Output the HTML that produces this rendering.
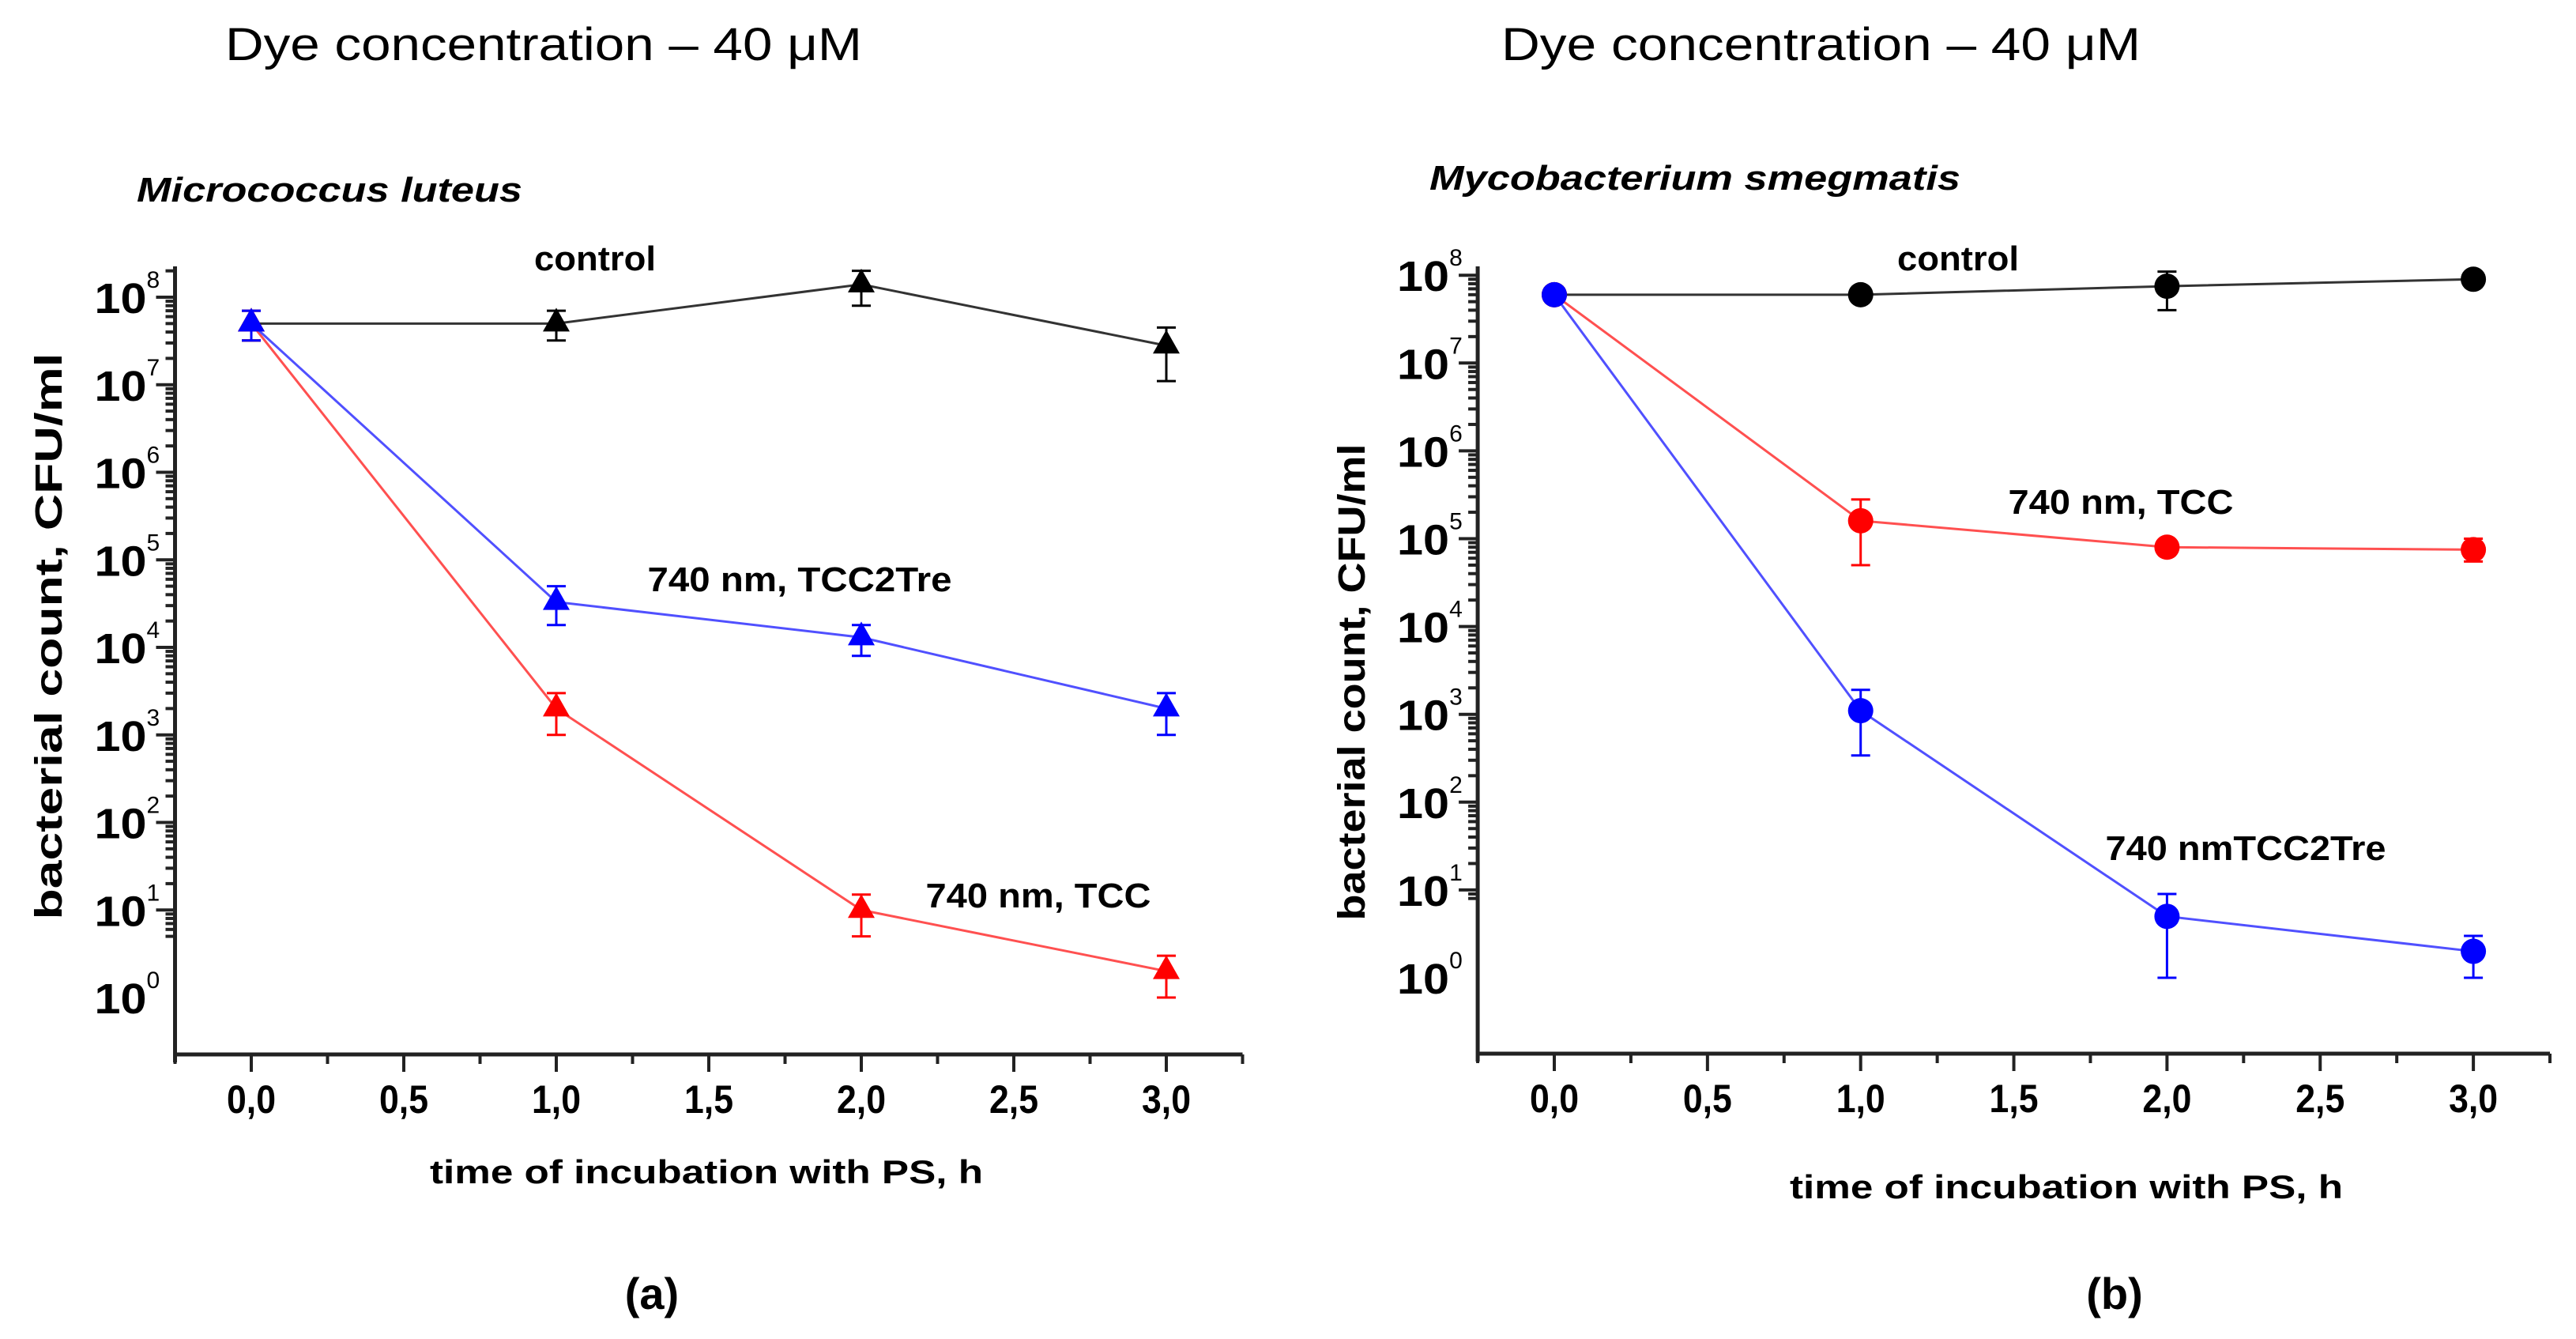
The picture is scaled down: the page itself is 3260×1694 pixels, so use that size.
<!DOCTYPE html>
<html><head><meta charset="utf-8"><style>
html,body{margin:0;padding:0;background:#fff;}
svg{display:block;font-family:"Liberation Sans",Arial,sans-serif;}
</style></head><body>
<svg id="fig" width="3260" height="1694" viewBox="0 0 3260 1694" xmlns="http://www.w3.org/2000/svg">
<rect width="3260" height="1694" fill="#fff"/>
<text x="285" y="76" font-size="58" textLength="806" lengthAdjust="spacingAndGlyphs">Dye concentration – 40 μM</text>
<text x="1900" y="76" font-size="58" textLength="809" lengthAdjust="spacingAndGlyphs">Dye concentration – 40 μM</text>
<text x="173" y="255" font-size="44" font-weight="bold" font-style="italic" textLength="488" lengthAdjust="spacingAndGlyphs">Micrococcus luteus</text>
<text x="1809" y="240" font-size="44" font-weight="bold" font-style="italic" textLength="672" lengthAdjust="spacingAndGlyphs">Mycobacterium smegmatis</text>
<text x="825" y="1656" font-size="56" font-weight="bold" text-anchor="middle">(a)</text>
<text x="2676" y="1656" font-size="56" font-weight="bold" text-anchor="middle">(b)</text>
<g id="chartA"></g>
<g id="chartB"></g>
</svg>
<script>
const NS="http://www.w3.org/2000/svg";
// ---- data ----
const timesA=[0,1,2,3];
const ctrlA=[5e7,5e7,1.4e8,2.8e7];
const ctrlAHi=[7e7,7e7,2e8,4.5e7];
const ctrlALo=[3.2e7,3.2e7,8e7,1.1e7];
const treA=[5e7,3.3e4,1.3e4,2e3];
const treAHi=[7e7,5e4,1.8e4,3e3];
const treALo=[3.2e7,1.8e4,8e3,1e3];
const tccA=[5e7,2e3,10,2];
const tccAHi=[7e7,3e3,15,3];
const tccALo=[3.2e7,1e3,5,1];
const timesB=[0,1,2,3];
const ctrlB=[6e7,6e7,7.5e7,9e7];
const ctrlBHi=[6e7,6e7,1.1e8,9e7];
const ctrlBLo=[6e7,6e7,4e7,9e7];
const tccB=[6e7,1.6e5,8e4,7.5e4];
const tccBHi=[6e7,2.8e5,8e4,1e5];
const tccBLo=[6e7,5e4,8e4,5.5e4];
const treB=[6e7,1.1e3,5,2];
const treBHi=[6e7,1.9e3,9,3];
const treBLo=[6e7,3.4e2,1,1];
const xTickLabels=["0,0","0,5","1,0","1,5","2,0","2,5","3,0"];
const xTickValues=[0,0.5,1,1.5,2,2.5,3];
const yDecades=[0,1,2,3,4,5,6,7,8];

function el(tag,attrs,parent){const e=document.createElementNS(NS,tag);for(const k in attrs)e.setAttribute(k,attrs[k]);parent.appendChild(e);return e;}

function chart(g,cfg){
  const X=v=>cfg.x0+v*cfg.unit;
  const Y=v=>cfg.y0-Math.log10(v)*cfg.dec;
  const left=X(-0.25),right=X(3.25),bottom=cfg.bottom,top=cfg.top;
  let a=el('line',{x1:left,y1:top,x2:left,y2:bottom+10,stroke:'#222','stroke-width':5},g);
  
  
  a=el('line',{x1:left,y1:bottom,x2:right,y2:bottom,stroke:'#222','stroke-width':5},g);
  
  
  const lo=Math.pow(10,(cfg.y0-bottom)/-cfg.dec), hi=Math.pow(10,(cfg.y0-top)/cfg.dec);
  for(let d=-1;d<=8;d++){
    for(let m=1;m<=9;m++){
      const v=m*Math.pow(10,d); if(v<lo||v>hi)continue;
      const y=Y(v), len=m===1?24:12;
      el('line',{x1:left-len,y1:y,x2:left,y2:y,stroke:'#222','stroke-width':4},g);
    }
  }
  yDecades.forEach(d=>{
    const t=el('text',{x:left-36,y:Y(Math.pow(10,d))+20,'font-size':54,'font-weight':'bold','text-anchor':'end',textLength:66,lengthAdjust:'spacingAndGlyphs'},g);
    t.textContent='10';
    
    
    const s=el('text',{x:left-36,y:Y(Math.pow(10,d))-12,'font-size':30},g);
    s.textContent=String(d);
  });
  for(let i=-1;i<=13;i++){const v=i*0.25;if(v<-0.25||v>3.25)continue;const maj=(i%2===0);
    el('line',{x1:X(v),y1:bottom,x2:X(v),y2:bottom+(maj?22:12),stroke:'#222','stroke-width':4},g);}
  xTickValues.forEach((v,i)=>{const t=el('text',{x:X(v),y:bottom+74,'font-size':50,'font-weight':'bold','text-anchor':'middle',textLength:62,lengthAdjust:'spacingAndGlyphs'},g);
    t.textContent=xTickLabels[i];
    
    });
  let t=el('text',{x:cfg.xtx,y:cfg.xty,'font-size':42,'font-weight':'bold','text-anchor':'middle',textLength:700,lengthAdjust:'spacingAndGlyphs'},g);
  t.textContent='time of incubation with PS, h';
  
  
  t=el('text',{x:0,y:0,'font-size':48,'font-weight':'bold','text-anchor':'middle',textLength:cfg.ytl,lengthAdjust:'spacingAndGlyphs',transform:`translate(${cfg.ytx},${cfg.yty}) rotate(-90)`},g);
  t.textContent='bacterial count, CFU/ml';
  
  
  cfg.series.forEach(s=>{
    const pts=s.vals.map((v,i)=>X(s.t[i])+','+Y(v)).join(' ');
    const p=el('polyline',{points:pts,fill:'none',stroke:s.line,'stroke-width':3},g);
    
    
    s.vals.forEach((v,i)=>{
      const x=X(s.t[i]),yh=Y(s.hi[i]),yl=Y(s.lo[i]);
      if(s.hi[i]!==v||s.lo[i]!==v){
        el('line',{x1:x,y1:yh,x2:x,y2:yl,stroke:s.col,'stroke-width':3},g);
        el('line',{x1:x-12,y1:yh,x2:x+12,y2:yh,stroke:s.col,'stroke-width':3},g);
        el('line',{x1:x-12,y1:yl,x2:x+12,y2:yl,stroke:s.col,'stroke-width':3},g);
      }
      const y=Y(v);let m;
      if(s.shape==='tri') m=el('polygon',{points:`${x},${y-20} ${x-17},${y+10} ${x+17},${y+10}`,fill:s.col},g);
      else m=el('circle',{cx:x,cy:y,r:16,fill:s.col},g);
      
      
    });
  });
  cfg.labels.forEach(l=>{const t=el('text',{x:l[1],y:l[2],'font-size':44,'font-weight':'bold','text-anchor':'middle',textLength:l[3],lengthAdjust:'spacingAndGlyphs'},g);
    t.textContent=l[0];
    
    });
}
chart(document.getElementById('chartA'),{x0:318,unit:386,y0:1262,dec:110.75,top:337,bottom:1334,
  xtx:894,xty:1497,ytx:78,yty:805,ytl:717,
  series:[
   {name:'control',t:timesA,vals:ctrlA,hi:ctrlAHi,lo:ctrlALo,col:'#000',line:'#333',shape:'tri'},
   {name:'tcc',t:timesA,vals:tccA,hi:tccAHi,lo:tccALo,col:'#ff0000',line:'#ff5050',shape:'tri'},
   {name:'tcc2tre',t:timesA,vals:treA,hi:treAHi,lo:treALo,col:'#0000ff',line:'#5050ff',shape:'tri'}],
  labels:[['control',753,342,154],['740 nm, TCC2Tre',1012,748,385],['740 nm, TCC',1314,1148,285]]});
chart(document.getElementById('chartB'),{x0:1967,unit:387.7,y0:1237,dec:111.1,top:337,bottom:1333,
  xtx:2615,xty:1516,ytx:1727,yty:863,ytl:603,
  series:[
   {name:'control',t:timesB,vals:ctrlB,hi:ctrlBHi,lo:ctrlBLo,col:'#000',line:'#333',shape:'circle'},
   {name:'tcc',t:timesB,vals:tccB,hi:tccBHi,lo:tccBLo,col:'#ff0000',line:'#ff5050',shape:'circle'},
   {name:'tcc2tre',t:timesB,vals:treB,hi:treBHi,lo:treBLo,col:'#0000ff',line:'#5050ff',shape:'circle'}],
  labels:[['control',2478,342,154],['740 nm, TCC',2684,650,285],['740 nmTCC2Tre',2842,1088,355]]});
</script>
</body></html>
